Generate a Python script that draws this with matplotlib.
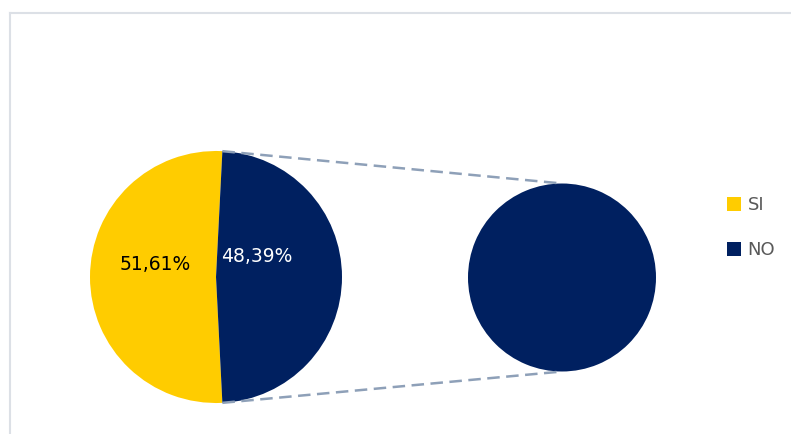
import matplotlib.pyplot as plt
import numpy as np

# Datos
categorias = ["SI", "NO"]
porcentajes = [51.61, 48.39]
colores = ["#FFCC00", "#002060"]
etiquetas = ["51,61%", "48,39%"]
color_texto = ["black", "white"]

W, H = 791, 434
fig = plt.figure(figsize=(W / 100, H / 100), dpi=100)
ax = fig.add_axes([0, 0, 1, 1])

# Pastel principal (la porción NO queda centrada a la derecha)
c1, r1 = (216, H - 277), 126
medio_no = porcentajes[1] / 100 * 180
wedges, _ = ax.pie(porcentajes, colors=colores, startangle=medio_no,
                   center=c1, radius=r1, counterclock=True,
                   wedgeprops=dict(linewidth=0))

# Pastel secundario: desglose de NO
c2, r2 = (562, H - 277.5), 94
ax.pie([porcentajes[1]], colors=[colores[1]], center=c2, radius=r2,
       wedgeprops=dict(linewidth=0))

# Etiquetas de datos
ax.text(155, H - 265, etiquetas[0], color=color_texto[0], fontsize=13.5,
        ha="center", va="center")
ax.text(257, H - 256, etiquetas[1], color=color_texto[1], fontsize=13.5,
        ha="center", va="center")

# Líneas de conexión entre ambos pasteles
ang = np.deg2rad(medio_no)
for s in (1, -1):
    x0 = c1[0] + r1 * np.cos(ang)
    y0 = c1[1] + s * r1 * np.sin(ang)
    x1 = c2[0]
    y1 = c2[1] + s * r2
    ax.plot([x0, x1], [y0, y1], ls=(0, (5, 2.6)), color="#8EA0B8", lw=1.8)

ax.set_xlim(0, W)
ax.set_ylim(0, H)
ax.set_aspect("equal")
ax.axis("off")

# Borde del área del gráfico
borde = "#DCE0E6"
ax.plot([9.5, 9.5], [0, H - 12.5], color=borde, lw=1.5)
ax.plot([9.5, W], [H - 12.5, H - 12.5], color=borde, lw=1.5)

ax.legend(wedges, categorias, loc="upper left",
          bbox_to_anchor=(718 / W, 1 - 187 / H), frameon=False,
          fontsize=13, handlelength=0.78, handleheight=0.78,
          labelspacing=1.5, handletextpad=0.35, borderpad=0,
          labelcolor="#595959")

fig.savefig("out.png", dpi=100)
